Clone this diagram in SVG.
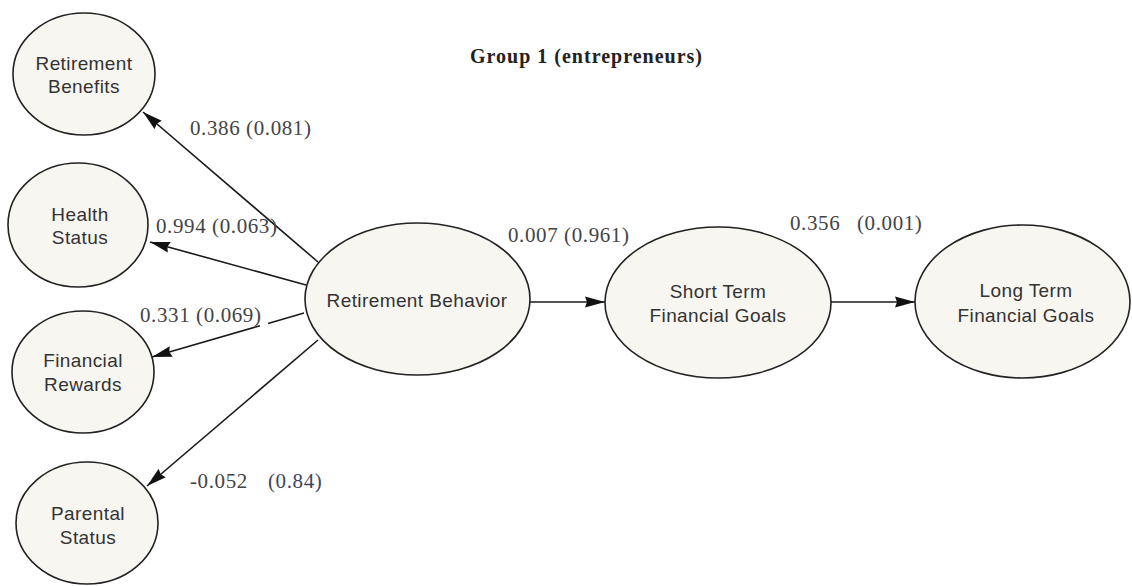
<svg xmlns="http://www.w3.org/2000/svg" width="1132" height="586" viewBox="0 0 1132 586">
  <style>
    .node ellipse { fill: #f8f6f1; stroke: #222; stroke-width: 1.6; }
    .node text { font-family: "Liberation Sans", Arial, sans-serif; font-size: 19px; fill: #333; text-anchor: middle; letter-spacing: 0.4px; }
    .edge { stroke: #1a1a1a; stroke-width: 1.6; fill: none; marker-end: url(#arrow); }
    .coef { font-family: "Liberation Serif", "Times New Roman", serif; font-size: 21px; fill: #444; letter-spacing: 0.6px; }
    .pval { fill: #3d4660; }
    .title { font-family: "Liberation Serif", "Times New Roman", serif; font-size: 20px; font-weight: bold; fill: #222; letter-spacing: 1px; }
  </style>
  <defs>
    <marker id="arrow" viewBox="0 0 20 12" refX="20" refY="6" markerWidth="20" markerHeight="12" markerUnits="userSpaceOnUse" orient="auto">
      <path d="M0,0.5 L20,6 L0,11.5 L2,6 Z" fill="#111"/>
    </marker>
  </defs>

  <rect width="1132" height="586" fill="#ffffff"/>

  <text class="title" x="470" y="63">Group 1 (entrepreneurs)</text>

  <!-- connectors -->
  <g id="connectors">
    <line class="edge" x1="318" y1="262" x2="143" y2="112"/>
    <line class="edge" x1="306" y1="285" x2="150" y2="242"/>
    <!-- broken where the coefficient label sits -->
    <path class="edge" d="M304,313 L268,323.5 M260,325.8 L152,357"/>
    <line class="edge" x1="318" y1="340" x2="147" y2="486"/>
    <line class="edge" x1="530" y1="302" x2="605" y2="302"/>
    <line class="edge" x1="831" y1="302" x2="915" y2="302"/>
  </g>

  <!-- path coefficients with p-values -->
  <g id="edge-labels">
    <text class="coef" x="190" y="135">0.386 (0.081)</text>
    <text class="coef" x="156" y="233">0.994 (0.063)</text>
    <text class="coef" x="140" y="322">0.331 (0.069)</text>
    <text class="coef" x="190" y="488">-0.052<tspan class="pval" x="268">(0.84)</tspan></text>
    <text class="coef" x="508" y="242">0.007 (0.961)</text>
    <text class="coef" x="790" y="230">0.356<tspan x="857">(0.001)</tspan></text>
  </g>

  <g id="retirement-benefits" class="node">
    <ellipse cx="84" cy="74" rx="71" ry="61"/>
    <text x="84" y="70">Retirement</text>
    <text x="84" y="93">Benefits</text>
  </g>

  <g id="health-status" class="node">
    <ellipse cx="78" cy="225" rx="70" ry="62"/>
    <text x="80" y="221">Health</text>
    <text x="80" y="244">Status</text>
  </g>

  <g id="financial-rewards" class="node">
    <ellipse cx="83" cy="372" rx="71" ry="61"/>
    <text x="83" y="367">Financial</text>
    <text x="83" y="391">Rewards</text>
  </g>

  <g id="parental-status" class="node">
    <ellipse cx="87" cy="523" rx="71" ry="61"/>
    <text x="88" y="520">Parental</text>
    <text x="88" y="544">Status</text>
  </g>

  <g id="retirement-behavior" class="node">
    <ellipse cx="417.5" cy="299" rx="112.5" ry="76"/>
    <text x="417" y="307">Retirement Behavior</text>
  </g>

  <g id="short-term-goals" class="node">
    <ellipse cx="718" cy="302.5" rx="113" ry="75.5"/>
    <text x="718" y="298">Short Term</text>
    <text x="718" y="322">Financial Goals</text>
  </g>

  <g id="long-term-goals" class="node">
    <ellipse cx="1022.5" cy="301.5" rx="107.5" ry="76.5"/>
    <text x="1026" y="297">Long Term</text>
    <text x="1026" y="322">Financial Goals</text>
  </g>
</svg>
